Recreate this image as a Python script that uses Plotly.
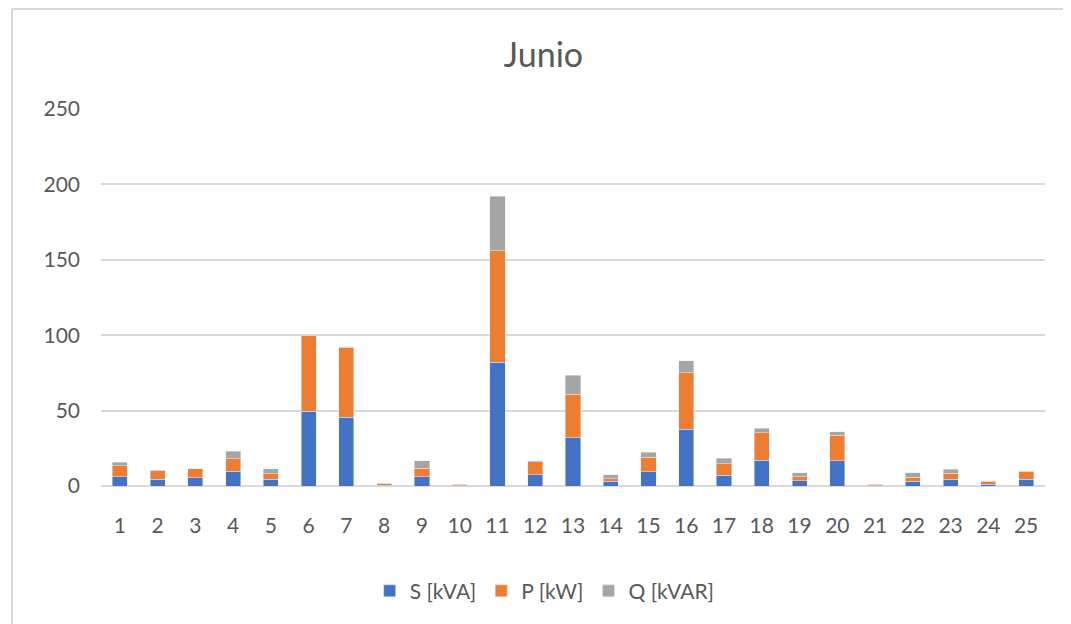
import plotly.graph_objects as go

categories = [str(i) for i in range(1, 26)]
s_kva = [6.2, 4.6, 5.5, 9.7, 4.6, 49.7, 45.5, 0.4, 6.2, 0.2, 82, 7.3, 32, 3, 9.5, 37.8, 7, 17.2, 3.5, 16.6, 0.2, 3.3, 4.6, 1.3, 4.4]
p_kw = [7.1, 5.6, 5.8, 8.4, 3.4, 50, 46.5, 1.2, 5.5, 0.7, 74, 8.8, 29, 1.7, 9.5, 37.4, 7.6, 18.2, 2.7, 17, 0.7, 2.4, 3.8, 2, 5.3]
q_kvar = [2.4, 0.3, 0.3, 5.1, 3.3, 0.2, 0.2, 0.2, 4.9, 0.1, 36, 0.6, 12.6, 2.7, 3.3, 7.7, 3.7, 2.8, 2.6, 2.4, 0.1, 3.1, 2.6, 0.3, 0.3]
y_ticks = [0, 50, 100, 150, 200, 250]

fig = go.Figure()
fig.add_bar(x=categories, y=s_kva, name="S [kVA]", marker_color="#4472C4")
fig.add_bar(x=categories, y=p_kw, name="P [kW]", marker_color="#ED7D31")
fig.add_bar(x=categories, y=q_kvar, name="Q [kVAR]", marker_color="#A5A5A5")

font_family = "Lato, 'Open Sans', sans-serif"
fig.update_layout(
    barmode="stack",
    bargap=0.6,
    width=1071,
    height=624,
    margin=dict(l=93, r=34, t=101, b=146),
    paper_bgcolor="white",
    plot_bgcolor="white",
    title=dict(text="Junio", x=0.5, xanchor="center", y=0.925, yanchor="middle",
               font=dict(family=font_family, size=34, color="#595959")),
    font=dict(family=font_family, size=22, color="#595959"),
    showlegend=True,
    legend=dict(orientation="h", x=0.47, xanchor="center", y=-0.279, yanchor="middle",
                font=dict(size=21, color="#595959"), traceorder="normal"),
    xaxis=dict(showgrid=False, showline=False, ticks="", ticklabelstandoff=25,
               tickfont=dict(size=21, color="#595959")),
    yaxis=dict(range=[0, 250], tickvals=y_ticks, showgrid=True, gridcolor="#D9D9D9", gridwidth=1.5,
               zeroline=True, zerolinecolor="#D9D9D9", zerolinewidth=1.5, showline=False,
               ticks="", ticklabelstandoff=20, tickfont=dict(size=21, color="#595959")),
    shapes=[
        dict(type="line", xref="paper", yref="paper", x0=-0.0943, x1=1.04, y0=1.265, y1=1.265,
             line=dict(color="#D9D9D9", width=2)),
        dict(type="line", xref="paper", yref="paper", x0=-0.0943, x1=-0.0943, y0=-0.4, y1=1.265,
             line=dict(color="#D9D9D9", width=2)),
    ],
)

fig.write_html("out.html")
